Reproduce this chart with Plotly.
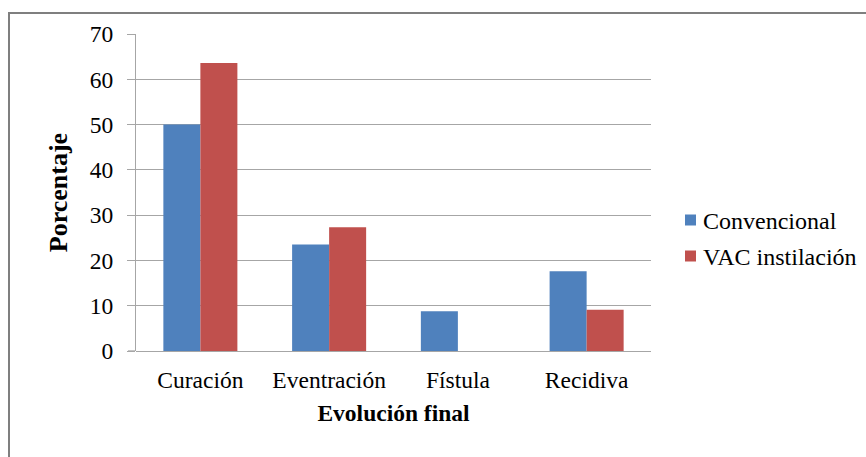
import plotly.graph_objects as go

categorias = ["Curación", "Eventración", "Fístula", "Recidiva"]
convencional = [50.0, 23.5, 8.8, 17.6]
vac_instilacion = [63.6, 27.3, 0.0, 9.1]
y_ticks = [0, 10, 20, 30, 40, 50, 60, 70]

series_names = ["Convencional", "VAC instilación"]
series_colors = ["#4F81BD", "#C0504D"]

FONT = "Liberation Serif, Times New Roman, serif"
GRID = "#a6a6a6"
W, H = 866, 457
ML, MR, MT, MB = 136, 215, 34, 106
PW, PH = W - ML - MR, H - MT - MB


def px_x(px):
    return (px - ML) / PW


def px_y(py):
    return (H - MB - py) / PH


fig = go.Figure()
for name, vals, col in zip(series_names, [convencional, vac_instilacion], series_colors):
    fig.add_trace(go.Bar(name=name, x=categorias, y=vals,
                         marker=dict(color=col, line=dict(width=0))))

# legend drawn as small squares with labels to the right of the plot
shapes = []
annotations = []
for i, (name, col) in enumerate(zip(series_names, series_colors)):
    cy = 220 + i * 36
    shapes.append(dict(type="rect", xref="paper", yref="paper",
                       x0=px_x(685), x1=px_x(696), y0=px_y(cy + 5.5), y1=px_y(cy - 5.5),
                       fillcolor=col, line=dict(width=0)))
    annotations.append(dict(text=name, xref="paper", yref="paper",
                            x=px_x(701), y=px_y(cy + 1), xanchor="left", yanchor="middle",
                            showarrow=False, font=dict(family=FONT, size=24, color="black")))

# left portion of the zero line extending under the tick marks
shapes.append(dict(type="line", xref="paper", yref="y", x0=px_x(128), x1=0, y0=0, y1=0,
                   line=dict(color=GRID, width=1.3)))
# outer frame around the chart
shapes.append(dict(type="rect", xref="paper", yref="paper",
                   x0=px_x(9), y0=-2, x1=3, y1=px_y(13),
                   line=dict(color="#7f7f7f", width=2), fillcolor="rgba(0,0,0,0)",
                   layer="below"))

fig.update_layout(
    width=W, height=H,
    margin=dict(l=ML, r=MR, t=MT, b=MB),
    paper_bgcolor="white", plot_bgcolor="white",
    barmode="group", bargap=0.425, bargroupgap=0,
    font=dict(family=FONT, size=23.5, color="black"),
    showlegend=False,
    xaxis=dict(
        title=dict(text="<b>Evolución final</b>", font=dict(family=FONT, size=23.5),
                   standoff=13),
        showline=False, ticks="", showgrid=False,
        ticklabelstandoff=12,
        tickfont=dict(family=FONT, size=23.5),
    ),
    yaxis=dict(
        title=dict(text="<b>Porcentaje</b>", font=dict(family=FONT, size=26),
                   standoff=14),
        range=[0, 70], tickvals=y_ticks, ticktext=[str(v) for v in y_ticks],
        showgrid=True, gridcolor=GRID, gridwidth=1.3,
        showline=True, linecolor=GRID, linewidth=1.3,
        ticks="outside", ticklen=8, tickcolor=GRID, tickwidth=1.3,
        ticklabelstandoff=9,
        tickfont=dict(family=FONT, size=23.5),
        zeroline=True, zerolinecolor=GRID, zerolinewidth=1.3,
    ),
    shapes=shapes,
    annotations=annotations,
)

fig.write_html("out.html")
